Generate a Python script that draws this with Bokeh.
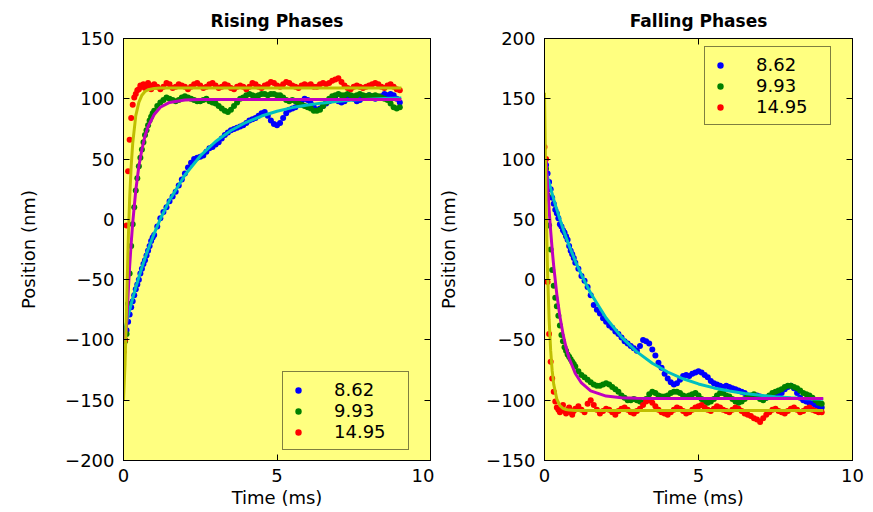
from bokeh.plotting import figure
from bokeh.models import Range1d, FixedTicker, LinearAxis, Legend, LegendItem
from bokeh.layouts import row
from bokeh.embed import file_html
from bokeh.resources import INLINE

# ---------------- data ----------------
# sampling grid of the measured traces (ms): 0.05 ms steps up to 0.95, then 0.1 ms steps to 9.0
time_ms = [round(0.05 * i, 2) for i in range(20)] + [round(1.0 + 0.1 * i, 1) for i in range(81)]

# grid on which the fitted curves are drawn (ms)
fit_time_ms = [0, 0.05, 0.1, 0.15, 0.2, 0.25, 0.3, 0.4, 0.5, 0.6, 0.7, 0.8, 1.0, 1.2, 1.5,
               2.0, 2.5, 3.0, 3.5, 4.0, 4.5, 5.0, 5.5, 6.0, 6.5, 7.0, 7.5, 8.0, 8.5, 9.05]

series_labels = ["8.62", "9.93", "14.95"]

# Rising phases (nm)
rise_862 = [
    -100, -100, -92, -85, -79, -73, -68, -63, -58, -54, -50, -45, -41, -37, -34, -30, -26, -22, -18, -15,
    -13, -6, 1, 6, 10, 15, 19, 23, 28, 33,
    38, 43, 47, 50, 51, 52, 53, 56, 59, 60,
    62, 64, 67, 70, 72, 74, 75, 76, 77, 78,
    80, 82, 83, 84, 86, 88, 89, 86, 82, 79,
    78, 80, 84, 88, 91, 92, 93, 95, 98, 100,
    99, 96, 93, 91, 92, 94, 96, 98, 99, 100,
    98, 97, 98, 100, 101, 100, 98, 99, 101, 102,
    103, 102, 100, 101, 102, 104, 103, 104, 103, 100, 97]
rise_993 = [
    -98, -101, -95, -70, -45, -22, -4, 10, 24, 34, 44, 51, 58, 64, 70, 74, 78, 82, 85, 88,
    90, 94, 97, 99, 101, 100, 99, 98, 99, 101,
    102, 101, 100, 99, 98, 98, 99, 100, 98, 97,
    96, 94, 92, 90, 89, 91, 94, 97, 100, 101,
    103, 104, 103, 102, 103, 104, 104, 103, 104, 104,
    103, 103, 101, 99, 98, 99, 98, 96, 95, 94,
    93, 92, 90, 90, 91, 94, 97, 100, 102, 103,
    104, 103, 103, 104, 103, 102, 103, 104, 103, 102,
    103, 102, 103, 102, 101, 100, 99, 96, 93, 92, 93]
rise_1495 = [
    -110, -100, -5, 40, 66, 84, 95, 101, 104, 107, 108, 111, 110, 112, 109, 111, 113, 110, 108, 111,
    112, 110, 108, 110, 113, 112, 109, 110, 112, 111,
    110, 108, 110, 112, 113, 111, 109, 110, 112, 113,
    111, 109, 110, 112, 111, 109, 108, 110, 111, 110,
    108, 110, 113, 112, 110, 109, 111, 112, 114, 113,
    111, 110, 112, 114, 113, 111, 110, 109, 111, 112,
    111, 112, 110, 110, 112, 113, 112, 113, 115, 116,
    117, 114, 111, 109, 108, 110, 111, 110, 109, 110,
    111, 112, 113, 112, 110, 109, 111, 112, 110, 108, 107]

rise_fit_862 = [-96, -90.6, -85.3, -80.2, -75.2, -70.3, -65.6, -56.5, -48.0, -39.9, -32.2, -25.0, -11.6, 0.3, 15.9,
                36.8, 52.6, 64.6, 73.7, 80.5, 85.7, 89.7, 92.7, 94.9, 96.6, 97.9, 98.9, 99.7, 100.2, 100.7]
rise_fit_993 = [-100, -100, -88, -62, -39, -20, -3, 24, 44, 58, 69, 77, 87, 93, 97,
                99, 99.4, 99.5, 99.5, 99.5, 99.5, 99.5, 99.5, 99.5, 99.5, 99.5, 99.5, 99.5, 99.5, 99.5]
rise_fit_1495 = [-150, -120, -74, -21, 17, 44, 63, 86, 97, 103, 106, 107.5, 108.6, 109, 109,
                 109, 109, 109, 109, 109, 109, 109, 109, 109, 109, 109, 109, 109, 109, 109]

# Falling phases (nm)
fall_862 = [
    97, 95, 88, 81, 75, 68, 63, 58, 55, 51, 46, 44, 41, 39, 36, 33, 28, 24, 21, 18,
    14, 9, 3, -1, -6, -13, -21, -25, -28, -32,
    -35, -38, -40, -43, -45, -48, -51, -53, -55, -57,
    -59, -55, -50, -51, -53, -58, -63, -69, -73, -78,
    -82, -85, -87, -86, -83, -80, -79, -80, -78, -77,
    -76, -77, -79, -81, -84, -86, -87, -88, -89, -88,
    -89, -90, -91, -92, -93, -94, -96, -97, -97, -96,
    -97, -98, -98, -97, -97, -96, -95, -94, -91, -89,
    -88, -90, -94, -98, -100, -101, -102, -103, -104, -105, -106]
fall_993 = [
    95, 92, 70, 45, 25, 8, -5, -15, -22, -30, -38, -46, -51, -56, -59, -62, -64, -66, -68, -70,
    -72, -76, -79, -81, -83, -85, -87, -88, -88, -87,
    -86, -87, -89, -91, -93, -96, -98, -100, -100, -99,
    -100, -101, -102, -99, -95, -93, -94, -96, -97, -97,
    -96, -94, -93, -93, -94, -96, -97, -96, -95, -94,
    -96, -99, -101, -102, -101, -99, -96, -94, -94, -96,
    -97, -99, -101, -102, -101, -99, -97, -96, -95, -97,
    -99, -100, -98, -96, -94, -93, -92, -91, -89, -88,
    -88, -89, -90, -92, -94, -95, -96, -98, -100, -102, -103]
fall_1495 = [
    110, 100, -2, -45, -68, -82, -93, -101, -106, -108, -110, -107, -104, -109, -111, -108, -106, -110, -112, -109,
    -107, -105, -108, -110, -103, -100, -104, -108, -111, -109,
    -107, -108, -110, -112, -109, -107, -106, -108, -110, -111,
    -109, -107, -104, -101, -100, -102, -105, -108, -110, -111,
    -112, -110, -108, -106, -107, -109, -111, -110, -108, -106,
    -105, -104, -106, -108, -109, -107, -105, -106, -108, -109,
    -110, -108, -106, -107, -109, -111, -112, -113, -115, -116,
    -118, -115, -112, -110, -108, -107, -109, -110, -111, -109,
    -107, -106, -108, -110, -109, -107, -106, -108, -109, -110, -110]

fall_fit_862 = [95, 90.0, 85.1, 80.3, 75.6, 71.1, 66.6, 58.1, 50.1, 42.4, 35.1, 28.2, 15.4, 3.9, -11.3,
                -31.8, -47.7, -59.9, -69.3, -76.6, -82.2, -86.5, -89.8, -92.4, -94.4, -95.9, -97.1, -98.0, -98.7, -99.3]
fall_fit_993 = [100, 100, 77.7, 57.9, 40.4, 24.8, 11.0, -12.2, -30.5, -44.9, -56.3, -65.2, -77.8, -85.7, -92.2,
                -96.6, -97.9, -98.3, -98.5, -98.5, -98.5, -98.5, -98.5, -98.5, -98.5, -98.5, -98.5, -98.5, -98.5, -98.5]
fall_fit_1495 = [155, 65.2, 6.0, -33.0, -58.7, -75.7, -86.9, -99.1, -104.4, -106.7, -107.7, -108.2, -108.5, -108.5, -108.5,
                 -108.5, -108.5, -108.5, -108.5, -108.5, -108.5, -108.5, -108.5, -108.5, -108.5, -108.5, -108.5, -108.5, -108.5, -108.5]

x_ticks = [0, 5, 10]
rise_y_ticks = [-200, -150, -100, -50, 0, 50, 100, 150]
fall_y_ticks = [-150, -100, -50, 0, 50, 100, 150, 200]

# ---------------- styling ----------------
FONT = "DejaVu Sans"
BG = "#ffff80"
DOT_COLORS = ["#0000ff", "#008000", "#ff0000"]
FIT_COLORS = ["#00bfbf", "#bf00bf", "#bfbf00"]


def style_axis(ax, standoff):
    ax.major_tick_in = 6
    ax.major_tick_out = 0
    ax.minor_tick_line_color = None
    ax.axis_line_color = "black"
    ax.major_tick_line_color = "black"
    ax.major_label_text_font = FONT
    ax.major_label_text_font_size = "18px"
    ax.major_label_text_color = "black"
    ax.major_label_standoff = standoff
    ax.axis_label_text_font = FONT
    ax.axis_label_text_font_size = "18px"
    ax.axis_label_text_font_style = "normal"
    ax.axis_label_text_color = "black"


def make_panel(title, y_lo, y_hi, y_ticks, dots, fits, legend_loc, width, left, right, ylabel_standoff):
    p = figure(width=width, height=512, x_range=Range1d(0, 10), y_range=Range1d(y_lo, y_hi),
               output_backend="svg", toolbar_location=None, title=title,
               min_border_left=left, min_border_right=right, min_border_top=38, min_border_bottom=52,
               background_fill_color=BG, border_fill_color="white", outline_line_color="black")
    p.title.text_font = FONT
    p.title.text_font_style = "bold"
    p.title.text_font_size = "17px"
    p.title.text_color = "black"
    p.title.align = "center"
    p.title.standoff = 15
    p.xgrid.visible = False
    p.ygrid.visible = False

    p.xaxis.ticker = FixedTicker(ticks=x_ticks)
    p.yaxis.ticker = FixedTicker(ticks=y_ticks)
    p.xaxis.axis_label = "Time (ms)"
    p.yaxis.axis_label = "Position (nm)"
    for ax in p.xaxis:
        style_axis(ax, 8)
        ax.axis_label_standoff = 2
    for ax in p.yaxis:
        style_axis(ax, 9)
        ax.axis_label_standoff = ylabel_standoff

    top = LinearAxis(ticker=FixedTicker(ticks=x_ticks))
    rgt = LinearAxis(ticker=FixedTicker(ticks=y_ticks))
    for ax in (top, rgt):
        style_axis(ax, 0)
        ax.major_label_text_font_size = "0px"
        ax.major_label_text_alpha = 0
    p.add_layout(top, "above")
    p.add_layout(rgt, "right")

    renderers = []
    for values, color in zip(dots, DOT_COLORS):
        r = p.scatter(time_ms, values, marker="circle", size=6, fill_color=color, line_color=None)
        renderers.append(r)
    for values, color in zip(fits, FIT_COLORS):
        p.line(fit_time_ms, values, line_width=3, line_color=color)

    legend = Legend(items=[LegendItem(label=lab, renderers=[r]) for lab, r in zip(series_labels, renderers)],
                    location=legend_loc, background_fill_color=BG, background_fill_alpha=1,
                    border_line_color="black", border_line_width=1,
                    label_text_font=FONT, label_text_font_size="18px", label_text_color="black",
                    glyph_width=16, glyph_height=20, label_height=20, label_width=67,
                    label_standoff=28, spacing=0, padding=7, margin=0)
    p.add_layout(legend)
    return p


p_rise = make_panel("Rising Phases", -200, 150, rise_y_ticks,
                    [rise_862, rise_993, rise_1495], [rise_fit_862, rise_fit_993, rise_fit_1495],
                    (159, 10), 434, 123, 4, 23)
p_fall = make_panel("Falling Phases", -150, 200, fall_y_ticks,
                    [fall_862, fall_993, fall_1495], [fall_fit_862, fall_fit_993, fall_fit_1495],
                    (160, 335), 439, 110, 21, 24)

layout = row(p_rise, p_fall)
open("out.html", "w").write(file_html(layout, INLINE))
